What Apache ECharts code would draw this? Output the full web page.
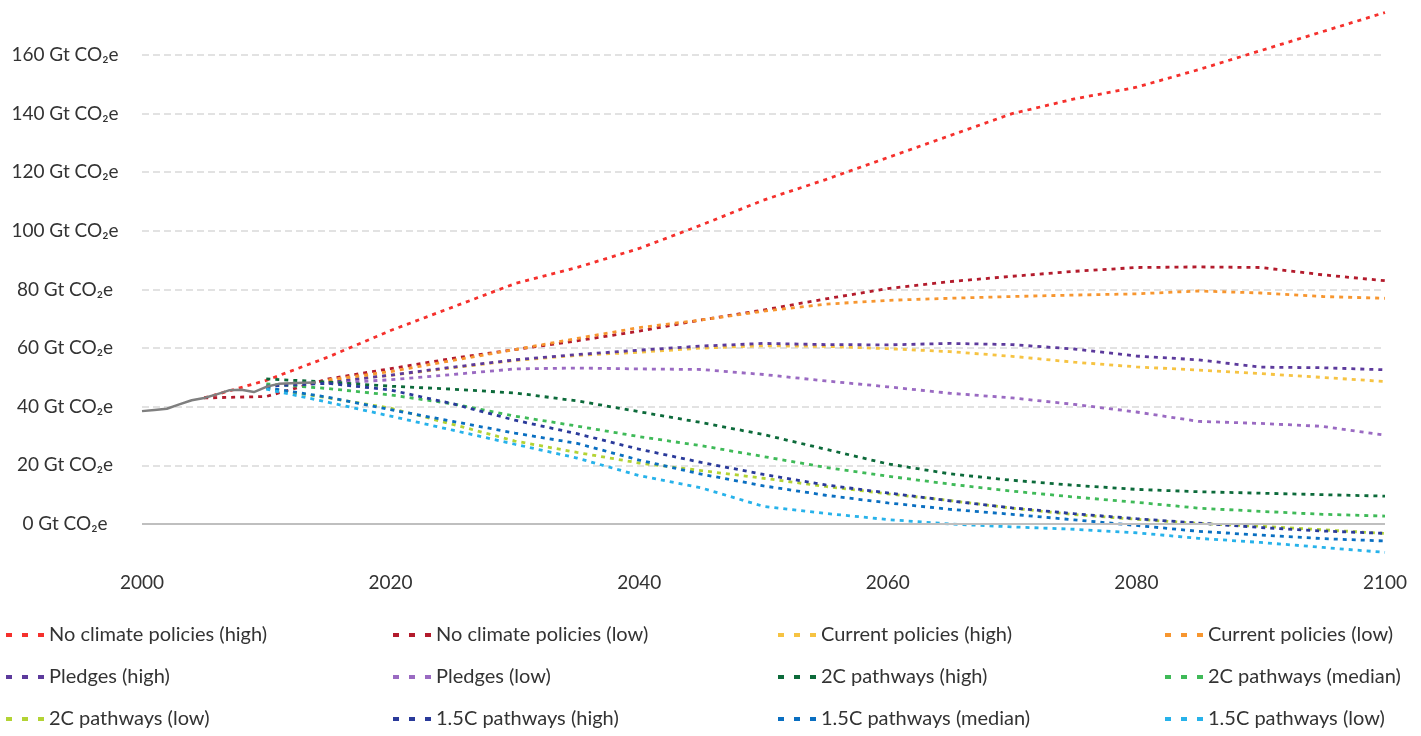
<!DOCTYPE html>
<html>
<head>
<meta charset="utf-8">
<script src="https://cdn.jsdelivr.net/npm/echarts@6/dist/echarts.min.js"></script>
<style>
html,body{margin:0;padding:0;background:#fff;}
#chart{width:1421px;height:736px;}
</style>
</head>
<body>
<div id="chart"></div>
<script>
// ---- data ----
const histYears = [2000,2001,2002,2003,2004,2005,2006,2007,2008,2009,2010,2011,2012,2013,2014];
const histValues = [38.5,38.9,39.3,40.8,42.2,43.0,44.2,45.6,45.8,45.0,46.8,47.8,48.0,48.2,48.3];

const years = [2005,2010,2015,2020,2025,2030,2035,2040,2045,2050,2055,2060,2065,2070,2075,2080,2085,2090,2095,2100];

const noPolicyHigh = [43,49,57,66,74,82,87.5,94,102,110.5,117.5,125,132.5,140,145,149,155,161.5,168,174.5];
const noPolicyLow  = [43,43.5,49.5,53,56.5,59.5,62.5,65.8,69.6,73,76.8,80.3,82.7,84.5,86.2,87.5,87.7,87.5,85,83];
const currentHigh  = [null,null,48.8,50.7,53.3,55.8,57.5,58.6,60,60.8,60.6,59.8,58.8,57.2,55.2,53.6,52.5,51.3,50,48.6];
const currentLow   = [null,null,49.2,52,55.8,59.5,63.3,67,69.6,72.6,75,76.3,77,77.6,78.1,78.5,79.5,78.8,77.6,77];
const pledgesHigh  = [null,null,48.2,50.8,53.5,56,57.8,59.3,60.7,61.6,61.2,61.1,61.6,61.2,59.7,57.3,56,53.5,53.3,52.6];
const pledgesLow   = [null,null,48,49.2,51,52.9,53.2,52.9,52.7,51,48.8,46.8,44.6,43,40.8,38.2,35,34.3,33.3,30.3];
const c2High       = [null,49.5,48.4,47,46,44.7,42,38.3,34.6,30.5,25.5,20.5,17.1,14.9,13.2,11.8,11,10.5,10,9.5];
const c2Median     = [null,47.8,46.2,44,41,36.8,33.4,29.8,26.7,23,19.3,16.3,13.6,11.2,9.2,7.4,5.4,4.3,3.3,2.7];
const c2Low        = [null,46.3,43,39.5,34,28.3,24.4,20.8,18.2,15.6,12.8,10.3,8,5.4,3.2,1.6,0.2,-0.8,-2,-3.2];
const c15High      = [null,47,48,45.7,41,35.4,30.8,25.5,21,16.9,13.3,10.6,7.9,5.5,3.5,1.8,0.3,-1.2,-2.4,-3.2];
const c15Median    = [null,46.5,43.2,39,35,31,27.5,21.8,17,13,9.8,7.2,5,3.3,1.4,-0.5,-2.5,-3.8,-5,-5.8];
const c15Low       = [null,46,41.5,36.8,32,27.2,22.5,16.5,12.3,6,3.6,1.5,0,-1,-1.8,-3,-4.9,-6.3,-8,-9.7];

const seriesNames = [
  'No climate policies (high)','No climate policies (low)','Current policies (high)','Current policies (low)',
  'Pledges (high)','Pledges (low)','2C pathways (high)','2C pathways (median)',
  '2C pathways (low)','1.5C pathways (high)','1.5C pathways (median)','1.5C pathways (low)'
];
const seriesValues = [noPolicyHigh,noPolicyLow,currentHigh,currentLow,pledgesHigh,pledgesLow,c2High,c2Median,c2Low,c15High,c15Median,c15Low];
const seriesColors = ['#f5302c','#b31b2c','#f6c342','#f7962f','#5c3a9c','#9a6ac2','#0c6a3a','#3fba58','#b3d334','#2a3a9a','#0a6fc1','#27b2ea'];

const xTicks = [2000,2020,2040,2060,2080,2100];
const yTicks = [0,20,40,60,80,100,120,140,160];

// ---- chart ----
const FONT = 'Lato';
const chart = echarts.init(document.getElementById('chart'), null, {renderer:'canvas'});

const pair = (xs, vs) => xs.map((x,i) => [x, vs[i]]);

const series = seriesNames.map((name, i) => ({
  name: name,
  type: 'line',
  data: pair(years, seriesValues[i]),
  symbol: 'none',
  smooth: false,
  connectNulls: false,
  color: seriesColors[i],
  lineStyle: {color: seriesColors[i], width: 2.8, type: [4,5]},
  silent: true,
  z: 3
}));
series.unshift({
  name: '__zero',
  type: 'line',
  data: [],
  symbol: 'none',
  silent: true,
  z: 2,
  markLine: {
    silent: true,
    symbol: ['none','none'],
    label: {show: false},
    lineStyle: {type: 'solid', color: '#bfbfbf', width: 2},
    data: [{yAxis: 0}]
  }
});
series.push({
  name: 'History',
  type: 'line',
  data: pair(histYears, histValues),
  symbol: 'none',
  color: '#7f7f7f',
  lineStyle: {color: '#7f7f7f', width: 2.5, type: 'solid'},
  silent: true,
  z: 4
});

const colLeft = [6, 393, 778, 1165];
const rowTop = [623, 665, 707];
const dashIcon = 'path://M0,0h6v4h-6z M16,0h6v4h-6z M32,0h6v4h-6z';
const legends = seriesNames.map((name, i) => ({
  data: [name],
  left: colLeft[i % 4],
  top: rowTop[Math.floor(i / 4)],
  padding: 0,
  icon: dashIcon,
  itemWidth: 38,
  itemHeight: 4,
  selectedMode: false,
  textStyle: {fontFamily: FONT, fontSize: 20, color: '#333', lineHeight: 24, padding: [0,0,0,0]}
}));

chart.setOption({
  animation: false,
  backgroundColor: '#ffffff',
  grid: {left: 142, right: 36, top: 8.1, bottom: 153.4, containLabel: false},
  legend: legends,
  xAxis: {
    type: 'value',
    min: 2000, max: 2100, interval: 20,
    axisLine: {show: false},
    axisTick: {show: false},
    splitLine: {show: false},
    axisLabel: {
      margin: -9,
      fontFamily: FONT, fontSize: 19, color: '#333',
      formatter: v => xTicks.includes(v) ? String(v) : ''
    }
  },
  yAxis: {
    type: 'value',
    min: -20, max: 176, interval: 20,
    axisLine: {show: false},
    axisTick: {show: false},
    splitLine: {
      show: true, showMinLine: false, showMaxLine: false,
      lineStyle: {color: '#d9d9d9', width: 1.5, type: [7,4]}
    },
    axisLabel: {
      align: 'center',
      margin: 77,
      fontFamily: FONT, fontSize: 19, color: '#333',
      formatter: v => yTicks.includes(v) ? v + ' Gt CO₂e' : ''
    }
  },
  series: series
});
</script>
</body>
</html>
